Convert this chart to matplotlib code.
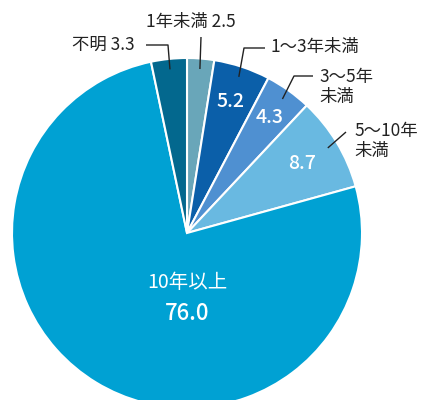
import numpy as np
import matplotlib.pyplot as plt

plt.rcParams['font.family'] = ['Noto Sans CJK JP', 'DejaVu Sans']

labels = ['1年未満', '1〜3年未満', '3〜5年\n未満', '5〜10年\n未満', '10年以上', '不明']
values = [2.5, 5.2, 4.3, 8.7, 76.0, 3.3]
colors = ['#69a6b9', '#0b5fa9', '#4f90d1', '#69b9e1', '#00a1d3', '#03688e']

W, H = 434, 400
cx, cy, R = 187, H - 233, 175

fig = plt.figure(figsize=(W / 100, H / 100), dpi=100)
ax = fig.add_axes([0, 0, 1, 1])
wedges, _ = ax.pie(values, colors=colors, startangle=90, counterclock=False,
                   center=(cx, cy), radius=R,
                   wedgeprops=dict(edgecolor='white', linewidth=1.5))
ax.set_xlim(0, W)
ax.set_ylim(0, H)
ax.set_aspect('equal')
ax.axis('off')


def mid(w, r):
    a = np.deg2rad((w.theta1 + w.theta2) / 2)
    return cx + r * np.cos(a), cy + r * np.sin(a)


# leader lines: start in wedge, bend, end (pixel coords from top)
def leader(w, pts):
    x0, y0 = mid(w, 0.94 * R)
    xs = [x0] + [p[0] for p in pts]
    ys = [y0] + [H - p[1] for p in pts]
    ax.plot(xs, ys, color='#222222', lw=1.0, solid_capstyle='butt')


tk = dict(color='#222222', fontsize=12.5)
ik = dict(color='white', fontsize=14, fontweight='medium', ha='center', va='center')
# 1年未満
leader(wedges[0], [(201, 37)])
ax.text(191, H - 22, f'{labels[0]} {values[0]}', ha='center', va='center', **tk)
# 1〜3年未満
leader(wedges[1], [(244, 48), (265, 48)])
ax.text(270, H - 47, labels[1], ha='left', va='center', **tk)
ax.text(*mid(wedges[1], 0.79 * R), f'{values[1]}', **ik)
# 3〜5年未満
leader(wedges[2], [(294, 76), (313, 76)])
ax.text(319, H - 87, labels[2], ha='left', va='center', linespacing=1.2, **tk)
ax.text(*mid(wedges[2], 0.81 * R), f'{values[2]}', **ik)
# 5〜10年未満
leader(wedges[3], [(346, 132)])
ax.text(354, H - 141, labels[3], ha='left', va='center', linespacing=1.2, **tk)
ax.text(*mid(wedges[3], 0.77 * R), f'{values[3]}', **ik)
# 10年以上
ax.text(187, H - 283, labels[4], color='white', fontsize=14, ha='center', va='center')
ax.text(187, H - 314, f'{values[4]}', color='white', fontsize=16, fontweight='medium',
        ha='center', va='center')
# 不明
leader(wedges[5], [(168, 45), (146, 45)])
ax.text(103, H - 45, f'{labels[5]} {values[5]}', ha='center', va='center', **tk)

fig.savefig('out.png', dpi=100)
